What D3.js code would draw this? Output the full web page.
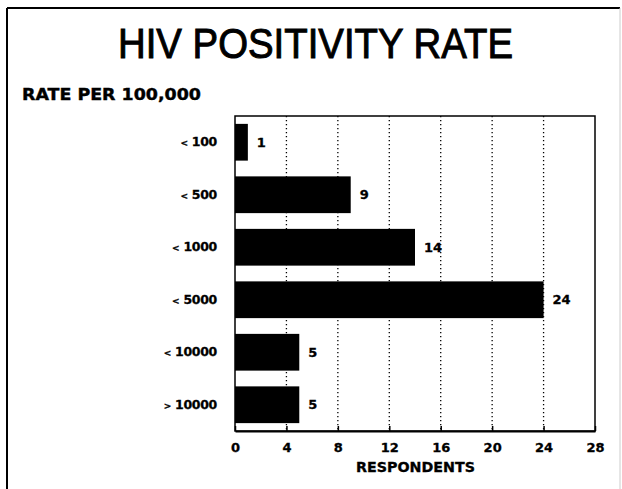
<!DOCTYPE html>
<html>
<head>
<meta charset="utf-8">
<script src="https://cdn.jsdelivr.net/npm/d3@7"></script>
<style>
  body { margin: 0; background: #fff; }
  svg { display: block; }
  .heavy { font-family: "DejaVu Sans", sans-serif; font-weight: bold; }
</style>
</head>
<body>
<svg id="chart" width="622" height="489" viewBox="0 0 622 489"></svg>
<script>
// rate bands and number of respondents in each
const categories = ["< 100", "< 500", "< 1000", "< 5000", "< 10000", "> 10000"];
const respondents = [1, 9, 14, 24, 5, 5];
const xTicks = [0, 4, 8, 12, 16, 20, 24, 28];

const plot = {left: 235, right: 595, top: 116, bottom: 431};

const svg = d3.select("#chart");

// outer frame of the slide
svg.append("line")
    .attr("x1", 7).attr("y1", 8).attr("x2", 620).attr("y2", 8)
    .attr("stroke", "#000").attr("stroke-width", 2);
svg.append("line")
    .attr("x1", 7).attr("y1", 8).attr("x2", 7).attr("y2", 489)
    .attr("stroke", "#000").attr("stroke-width", 2);
svg.append("line")
    .attr("x1", 620).attr("y1", 8).attr("x2", 620).attr("y2", 489)
    .attr("stroke", "#ccc").attr("stroke-width", 1);

svg.append("text")
    .attr("x", 118)
    .attr("y", 58)
    .attr("textLength", 395)
    .attr("lengthAdjust", "spacingAndGlyphs")
    .attr("font-family", "Liberation Sans, Arial, sans-serif")
    .attr("font-size", 42)
    .attr("stroke", "#000")
    .attr("stroke-width", 1)
    .text("HIV POSITIVITY RATE");

svg.append("text")
    .attr("class", "heavy")
    .attr("x", 22)
    .attr("y", 100)
    .attr("textLength", 179)
    .attr("lengthAdjust", "spacingAndGlyphs")
    .attr("font-size", 16)
    .attr("stroke", "#000")
    .attr("stroke-width", 0.4)
    .text("RATE PER 100,000");

const x = d3.scaleLinear()
    .domain([0, 28])
    .range([plot.left, plot.right]);

const y = d3.scaleBand()
    .domain(categories)
    .range([plot.top, plot.bottom])
    .paddingInner(0.3)
    .paddingOuter(0.15);

// dotted grid behind the bars
svg.append("g")
    .selectAll("line")
    .data(xTicks.filter(d => d > 0 && d < 28))
    .join("line")
    .attr("x1", d => x(d)).attr("x2", d => x(d))
    .attr("y1", plot.top).attr("y2", plot.bottom)
    .attr("stroke", "#000")
    .attr("stroke-width", 1.3)
    .attr("stroke-dasharray", "1.3,2.7");

svg.append("g")
    .selectAll("rect")
    .data(respondents)
    .join("rect")
    .attr("x", x(0))
    .attr("y", (d, i) => y(categories[i]))
    .attr("width", d => x(d) - x(0))
    .attr("height", y.bandwidth())
    .attr("fill", "#000");

svg.append("g")
    .attr("class", "heavy")
    .attr("font-size", 13)
    .attr("stroke", "#000")
    .attr("stroke-width", 0.3)
    .selectAll("text")
    .data(respondents)
    .join("text")
    .attr("x", d => x(d) + 9)
    .attr("y", (d, i) => y(categories[i]) + y.bandwidth() / 2)
    .attr("dy", "0.36em")
    .text(d => d);

// plot frame
svg.append("rect")
    .attr("x", plot.left).attr("y", plot.top)
    .attr("width", plot.right - plot.left)
    .attr("height", plot.bottom - plot.top)
    .attr("fill", "none")
    .attr("stroke", "#000")
    .attr("stroke-width", 1.5);

// bottom axis, ticks pointing inward
const xAxis = svg.append("g")
    .attr("transform", `translate(0,${plot.bottom})`)
    .call(d3.axisBottom(x).tickValues(xTicks).tickSizeInner(-5).tickSizeOuter(0).tickPadding(12));
xAxis.attr("font-family", null).attr("font-size", null);
xAxis.select(".domain").attr("stroke-width", 2.2);
xAxis.selectAll(".tick line").attr("stroke-width", 1.5);
xAxis.selectAll(".tick text")
    .attr("class", "heavy")
    .attr("font-size", 13)
    .attr("fill", "#000")
    .attr("stroke", "#000")
    .attr("stroke-width", 0.3);

// category labels
const yAxis = svg.append("g")
    .attr("transform", `translate(${plot.left},0)`)
    .call(d3.axisLeft(y).tickSize(0).tickPadding(18));
yAxis.select(".domain").remove();
yAxis.attr("font-family", null).attr("font-size", null);
yAxis.selectAll(".tick text")
    .attr("class", "heavy")
    .attr("font-size", 12.5)
    .attr("fill", "#000")
    .attr("stroke", "#000")
    .attr("stroke-width", 0.3)
    .attr("letter-spacing", -0.3)
    .text(null)
    .each(function(d) {
        const t = d3.select(this);
        t.append("tspan").attr("font-size", 9).text(d.slice(0, 1));
        t.append("tspan").text(" " + d.slice(2));
    });

svg.append("text")
    .attr("class", "heavy")
    .attr("x", 356)
    .attr("y", 472)
    .attr("textLength", 119)
    .attr("lengthAdjust", "spacingAndGlyphs")
    .attr("font-size", 13.5)
    .attr("stroke", "#000")
    .attr("stroke-width", 0.3)
    .text("RESPONDENTS");
</script>
</body>
</html>
